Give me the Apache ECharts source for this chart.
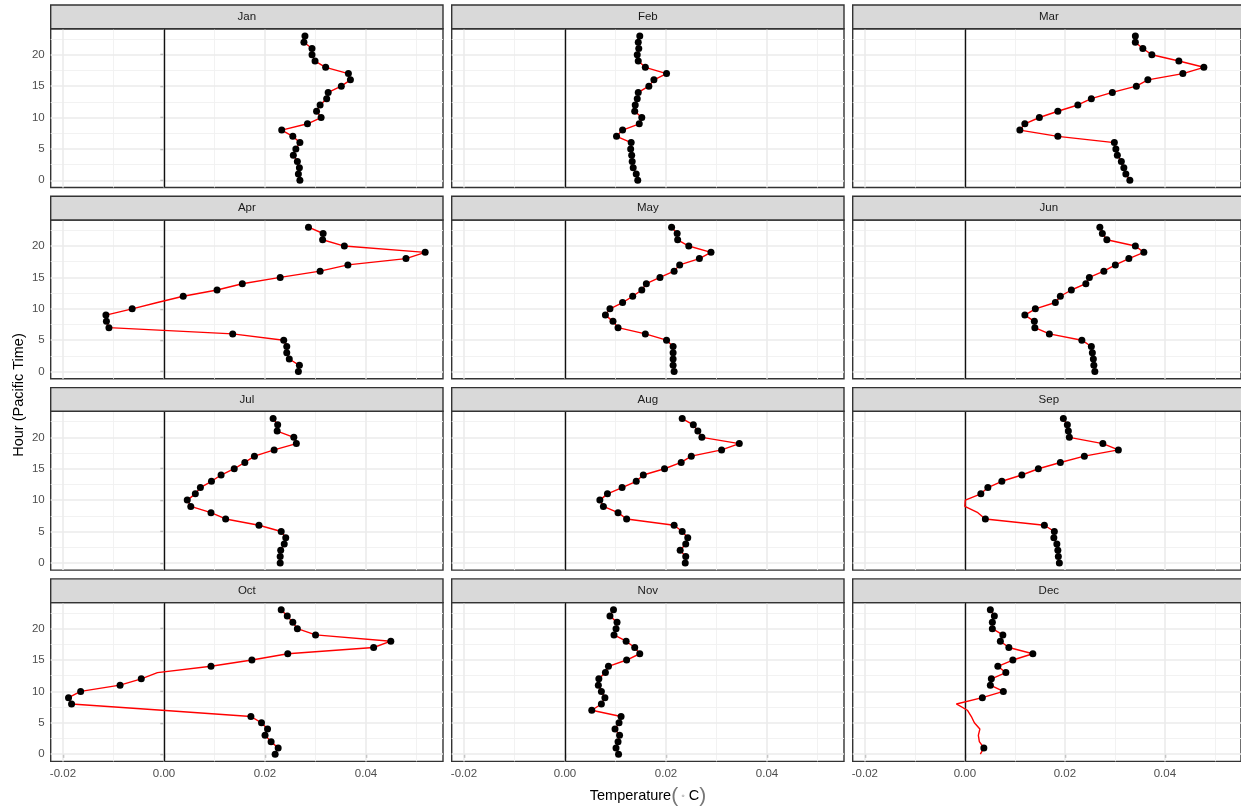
<!DOCTYPE html>
<html>
<head>
<meta charset="utf-8">
<script src="https://cdn.jsdelivr.net/npm/echarts@6/dist/echarts.min.js"></script>
<style>
  html, body { margin: 0; padding: 0; background: #ffffff; }
  #chart { width: 1241px; height: 807px; }
</style>
</head>
<body>
<div id="chart"></div>
<script>
// Mean temperature change by hour of day (Pacific Time), one panel per month.
const months = ['Jan', 'Feb', 'Mar', 'Apr', 'May', 'Jun', 'Jul', 'Aug', 'Sep', 'Oct', 'Nov', 'Dec'];
const hours = [0, 1, 2, 3, 4, 5, 6, 7, 8, 9, 10, 11, 12, 13, 14, 15, 16, 17, 18, 19, 20, 21, 22, 23];

// values listed from hour 0 to hour 23
const jan = [0.0269, 0.0266, 0.0268, 0.0264, 0.0256, 0.0261, 0.0269, 0.0255, 0.0233, 0.0284, 0.0311, 0.0302,
             0.0309, 0.0322, 0.0325, 0.0351, 0.0369, 0.0365, 0.0320, 0.0299, 0.0293, 0.0293, 0.0277, 0.0279];
const feb = [0.0144, 0.0141, 0.0135, 0.0133, 0.0132, 0.0130, 0.0131, 0.0102, 0.0114, 0.0147, 0.0152, 0.0138,
             0.0139, 0.0143, 0.0145, 0.0166, 0.0176, 0.0201, 0.0159, 0.0145, 0.0143, 0.0146, 0.0145, 0.0148];
const mar = [0.0330, 0.0322, 0.0318, 0.0313, 0.0305, 0.0302, 0.0299, 0.0186, 0.0110, 0.0120, 0.0149, 0.0186,
             0.0226, 0.0253, 0.0295, 0.0343, 0.0366, 0.0436, 0.0478, 0.0428, 0.0374, 0.0356, 0.0341, 0.0341];
const apr = [0.0266, 0.0268, 0.0248, 0.0243, 0.0243, 0.0237, 0.0136, -0.0109, -0.0114, -0.0115, -0.0063, -0.0013,
             0.0038, 0.0105, 0.0155, 0.0230, 0.0309, 0.0364, 0.0479, 0.0517, 0.0357, 0.0314, 0.0315, 0.0286];
const may = [0.0216, 0.0214, 0.0214, 0.0214, 0.0214, 0.0201, 0.0159, 0.0105, 0.0095, 0.0080, 0.0089, 0.0114,
             0.0134, 0.0152, 0.0161, 0.0188, 0.0216, 0.0227, 0.0266, 0.0289, 0.0245, 0.0223, 0.0222, 0.0211];
const jun = [0.0260, 0.0258, 0.0257, 0.0255, 0.0253, 0.0234, 0.0169, 0.0140, 0.0139, 0.0120, 0.0141, 0.0181,
             0.0191, 0.0213, 0.0242, 0.0249, 0.0278, 0.0301, 0.0328, 0.0358, 0.0341, 0.0284, 0.0275, 0.0270];
const jul = [0.0230, 0.0230, 0.0231, 0.0238, 0.0241, 0.0232, 0.0188, 0.0122, 0.0093, 0.0053, 0.0046, 0.0062,
             0.0072, 0.0094, 0.0113, 0.0139, 0.0160, 0.0179, 0.0218, 0.0262, 0.0257, 0.0224, 0.0225, 0.0216];
const aug = [0.0238, 0.0239, 0.0228, 0.0239, 0.0243, 0.0232, 0.0216, 0.0122, 0.0105, 0.0076, 0.0069, 0.0084,
             0.0113, 0.0141, 0.0155, 0.0197, 0.0230, 0.0250, 0.0310, 0.0345, 0.0271, 0.0263, 0.0254, 0.0232];
const sep = [0.0189, 0.0187, 0.0186, 0.0184, 0.0178, 0.0179, 0.0159, 0.0041, 0.0026, 0.0000, 0.0001, 0.0032,
             0.0046, 0.0074, 0.0114, 0.0147, 0.0191, 0.0239, 0.0307, 0.0276, 0.0209, 0.0207, 0.0205, 0.0197];
const oct = [0.0220, 0.0226, 0.0212, 0.0200, 0.0205, 0.0193, 0.0172, -0.0004, -0.0183, -0.0189, -0.0165, -0.0087,
             -0.0045, -0.0013, 0.0093, 0.0174, 0.0245, 0.0415, 0.0449, 0.0300, 0.0264, 0.0255, 0.0244, 0.0232];
const nov = [0.0106, 0.0101, 0.0105, 0.0108, 0.0099, 0.0107, 0.0111, 0.0053, 0.0072, 0.0079, 0.0072, 0.0066,
             0.0067, 0.0080, 0.0086, 0.0122, 0.0148, 0.0138, 0.0121, 0.0097, 0.0101, 0.0103, 0.0089, 0.0096];
const dec = [0.0031, 0.0038, 0.0029, 0.0027, 0.0030, 0.0019, 0.0013, 0.0005, -0.0017, 0.0035, 0.0077, 0.0051,
             0.0053, 0.0082, 0.0066, 0.0096, 0.0136, 0.0088, 0.0071, 0.0076, 0.0055, 0.0055, 0.0059, 0.0051];

const monthValues = [jan, feb, mar, apr, may, jun, jul, aug, sep, oct, nov, dec];

// hours that appear on the line but carry no point marker
const lineOnlyHours = {
  Apr: [11],
  Sep: [8, 9, 10],
  Oct: [7, 13],
  Dec: [0, 2, 3, 4, 5, 6, 7, 8]
};

const xBreaks = [-0.02, 0.00, 0.02, 0.04];
const xMinorBreaks = [-0.01, 0.01, 0.03, 0.05];
const yBreaks = [0, 5, 10, 15, 20];
const yMinorBreaks = [2.5, 7.5, 12.5, 17.5, 22.5];

// ---- layout ----
const FONT = '"Liberation Sans", Arial, Helvetica, sans-serif';
const colLeft = [50.7, 451.7, 852.7];
const rowTop = [28.7, 220.0, 411.3, 602.6];
const panelW = 392.3;
const panelH = 158.8;
const stripH = 23.7;

// 5% expansion on both axes
const allVals = [].concat(...monthValues);
const lo = Math.min(...allVals), hi = Math.max(...allVals);
const xPad = (hi - lo) * 0.05;
const xMin = lo - xPad, xMax = hi + xPad;
const hLo = Math.min(...hours), hHi = Math.max(...hours);
const yPad = (hHi - hLo) * 0.05;
const yMin = hLo - yPad, yMax = hHi + yPad;

const grids = [], xAxes = [], yAxes = [], series = [], graphics = [];

months.forEach((m, i) => {
  const row = Math.floor(i / 3), col = i % 3;
  const left = colLeft[col], top = rowTop[row];
  const isBottom = row === 3, isLeft = col === 0;

  grids.push({
    left: left, top: top, width: panelW, height: panelH,
    show: true, backgroundColor: '#ffffff', borderColor: '#333333', borderWidth: 1.4,
    containLabel: false
  });

  xAxes.push({
    gridIndex: i, type: 'value', min: xMin, max: xMax,
    axisLine: { show: false },
    splitLine: { show: false },
    axisTick: { show: isBottom, customValues: xBreaks, length: 3.7, lineStyle: { color: '#333333', width: 1.2 } },
    axisLabel: {
      show: isBottom, customValues: xBreaks, margin: 6,
      color: '#4D4D4D', fontSize: 11.5, fontFamily: FONT,
      formatter: v => v.toFixed(2)
    }
  });

  yAxes.push({
    gridIndex: i, type: 'value', min: yMin, max: yMax,
    axisLine: { show: false },
    splitLine: { show: false },
    axisTick: { show: isLeft, customValues: yBreaks, length: 3.7, lineStyle: { color: '#333333', width: 1.2 } },
    axisLabel: {
      show: isLeft, customValues: yBreaks, margin: 6,
      color: '#4D4D4D', fontSize: 11.5, fontFamily: FONT,
      formatter: v => String(v)
    }
  });

  const vals = monthValues[i];
  const skip = lineOnlyHours[m] || [];
  const lineData = hours.map(h => [vals[h], h]);
  const pointData = hours.filter(h => skip.indexOf(h) < 0).map(h => [vals[h], h]);

  const major = { color: '#EBEBEB', width: 1.6, type: 'solid' };
  const minor = { color: '#F0F0F0', width: 0.9, type: 'solid' };
  const gridLines = []
    .concat(xMinorBreaks.map(v => ({ xAxis: v, lineStyle: minor })))
    .concat(yMinorBreaks.map(v => ({ yAxis: v, lineStyle: minor })))
    .concat(xBreaks.map(v => ({ xAxis: v, lineStyle: major })))
    .concat(yBreaks.map(v => ({ yAxis: v, lineStyle: major })));

  // panel grid lines
  series.push({
    type: 'line', xAxisIndex: i, yAxisIndex: i, z: 1,
    data: lineData, showSymbol: false, silent: true,
    lineStyle: { opacity: 0 },
    markLine: {
      z: 1, silent: true, symbol: 'none', animation: false,
      label: { show: false },
      data: gridLines
    }
  });
  // zero reference line
  series.push({
    type: 'line', xAxisIndex: i, yAxisIndex: i, z: 2,
    data: lineData, showSymbol: false, silent: true,
    lineStyle: { opacity: 0 },
    markLine: {
      z: 2, silent: true, symbol: 'none', animation: false,
      label: { show: false },
      data: [{ xAxis: 0, lineStyle: { color: '#111111', width: 1.4, type: 'solid' } }]
    }
  });

  series.push({
    name: m, type: 'line', xAxisIndex: i, yAxisIndex: i, z: 3,
    data: lineData, showSymbol: false, smooth: false,
    lineStyle: { color: '#FF0000', width: 1.4 },
    emphasis: { disabled: true }
  });
  series.push({
    name: m, type: 'scatter', xAxisIndex: i, yAxisIndex: i, z: 4,
    data: pointData, symbol: 'circle', symbolSize: 7,
    itemStyle: { color: '#000000', opacity: 1 },
    emphasis: { disabled: true }
  });

  // facet strip
  graphics.push({
    type: 'rect', z: 10,
    shape: { x: left, y: top - stripH, width: panelW, height: stripH },
    style: { fill: '#D9D9D9', stroke: '#333333', lineWidth: 1.4 }
  });
  graphics.push({
    type: 'text', z: 11,
    x: left + panelW / 2, y: top - stripH / 2,
    style: {
      text: m, fill: '#1A1A1A', font: '11.5px ' + FONT,
      textAlign: 'center', textVerticalAlign: 'middle'
    }
  });
});

// axis titles
graphics.push({
  type: 'text', z: 11, x: 19, y: 395, rotation: Math.PI / 2,
  style: {
    text: 'Hour (Pacific Time)', fill: '#000000', font: '14.5px ' + FONT,
    textAlign: 'center', textVerticalAlign: 'middle'
  }
});
graphics.push({
  type: 'text', z: 11, x: 648, y: 796,
  style: {
    text: '{a|Temperature}{p|(}{d|◦}{a| C}{p|)}',
    textAlign: 'center', textVerticalAlign: 'middle',
    rich: {
      a: { fontSize: 14.5, fontFamily: FONT, fill: '#000000' },
      p: { fontSize: 21, fontFamily: FONT, fill: '#777777', fontWeight: 'lighter' },
      d: { fontSize: 10, fontFamily: FONT, fill: '#666666', padding: [0, 0, 0, 3] }
    }
  }
});

const chart = echarts.init(document.getElementById('chart'), null, { renderer: 'canvas' });
chart.setOption({
  animation: false,
  backgroundColor: '#ffffff',
  grid: grids,
  xAxis: xAxes,
  yAxis: yAxes,
  series: series,
  graphic: graphics
});
</script>
</body>
</html>
